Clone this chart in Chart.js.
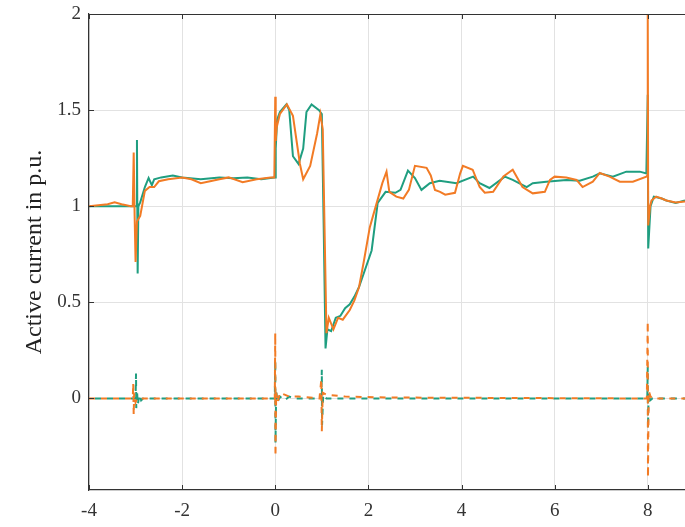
<!DOCTYPE html>
<html>
<head>
<meta charset="utf-8">
<script src="https://cdn.jsdelivr.net/npm/chart.js@4"></script>
<style>
  html, body { margin: 0; padding: 0; background: #fff; }
  #wrap { width: 685px; height: 527px; }
</style>
</head>
<body>
<div id="wrap"><canvas id="c" width="685" height="527"></canvas></div>
<script>
// ---- Data ----
const xTicks = [-4, -2, 0, 2, 4, 6, 8];
const yTicks = [0, 0.5, 1, 1.5, 2];

const orangeUpperX = [-4, -3.6, -3.45, -3.3, -3.1, -3.06, -3.04, -3.02, -3.0, -2.97, -2.9, -2.8, -2.7, -2.6, -2.5, -2.3, -2.0, -1.8, -1.6, -1.4, -1.2, -1.0, -0.7, -0.4, -0.1, -0.02, 0.0, 0.01, 0.03, 0.1, 0.25, 0.38, 0.53, 0.6, 0.75, 0.9, 0.97, 1.02, 1.1, 1.15, 1.25, 1.35, 1.45, 1.6, 1.7, 1.8, 1.9, 2.03, 2.1, 2.3, 2.39, 2.45, 2.6, 2.75, 2.87, 3.0, 3.25, 3.34, 3.43, 3.54, 3.65, 3.86, 3.97, 4.03, 4.24, 4.39, 4.5, 4.68, 4.9, 5.1, 5.31, 5.53, 5.79, 5.9, 6.0, 6.25, 6.47, 6.6, 6.82, 6.97, 7.18, 7.4, 7.68, 7.97, 7.99, 8.0, 8.01, 8.05, 8.08, 8.18, 8.3, 8.4, 8.6, 8.8];
const orangeUpperY = [1.0, 1.01, 1.02, 1.01, 1.0, 1.0, 1.28, 0.95, 0.71, 0.92, 0.95, 1.08, 1.10, 1.10, 1.13, 1.14, 1.15, 1.14, 1.12, 1.13, 1.14, 1.15, 1.125, 1.14, 1.15, 1.15, 1.57, 1.34, 1.41, 1.48, 1.53, 1.47, 1.22, 1.14, 1.21, 1.38, 1.48, 1.40, 0.34, 0.42, 0.36, 0.42, 0.41, 0.46, 0.51, 0.58, 0.71, 0.89, 0.95, 1.12, 1.18, 1.075, 1.05, 1.04, 1.085, 1.21, 1.2, 1.16, 1.085, 1.075, 1.06, 1.07, 1.17, 1.21, 1.19, 1.10, 1.07, 1.075, 1.155, 1.19, 1.10, 1.067, 1.075, 1.137, 1.154, 1.15, 1.137, 1.10, 1.128, 1.173, 1.154, 1.128, 1.128, 1.154, 1.16, 2.0, 0.9, 1.0, 1.03, 1.05, 1.04, 1.03, 1.02, 1.025];

const tealUpperX = [-4, -3.5, -3.1, -2.98, -2.97, -2.955, -2.94, -2.9, -2.8, -2.72, -2.65, -2.6, -2.45, -2.2, -2.0, -1.6, -1.2, -0.9, -0.6, -0.3, -0.02, 0.0, 0.01, 0.04, 0.1, 0.24, 0.3, 0.38, 0.5, 0.6, 0.67, 0.78, 0.94, 1.0, 1.04, 1.08, 1.12, 1.2, 1.3, 1.4, 1.5, 1.6, 1.7, 1.8, 1.9, 2.07, 2.2, 2.37, 2.58, 2.69, 2.85, 3.0, 3.14, 3.32, 3.53, 3.89, 4.25, 4.39, 4.6, 4.93, 5.1, 5.4, 5.53, 5.82, 6.25, 6.54, 6.82, 6.97, 7.25, 7.54, 7.83, 7.97, 8.0, 8.01, 8.06, 8.13, 8.3, 8.4, 8.6, 8.8];
const tealUpperY = [1.0, 1.0, 1.0, 1.0, 1.345, 0.65, 1.0, 1.02, 1.10, 1.147, 1.11, 1.14, 1.15, 1.16, 1.15, 1.14, 1.15, 1.145, 1.15, 1.14, 1.15, 1.15, 1.30, 1.45, 1.49, 1.53, 1.50, 1.26, 1.22, 1.30, 1.49, 1.53, 1.50, 1.48, 0.9, 0.26, 0.36, 0.35, 0.42, 0.43, 0.47, 0.49, 0.53, 0.58, 0.65, 0.77, 1.017, 1.075, 1.07, 1.085, 1.185, 1.147, 1.085, 1.12, 1.133, 1.12, 1.154, 1.12, 1.095, 1.154, 1.137, 1.10, 1.12, 1.128, 1.137, 1.133, 1.154, 1.171, 1.154, 1.18, 1.18, 1.171, 1.58, 0.78, 1.0, 1.05, 1.04, 1.03, 1.017, 1.03];

const orangeLowerX = [-4, -3.06, -3.05, -3.04, -3.03, -3.0, -2.97, -0.01, 0.0, 0.005, 0.02, 0.05, 0.1, 0.2, 0.3, 0.5, 0.95, 0.99, 1.0, 1.02, 1.1, 1.5, 2.5, 7.98, 8.0, 8.005, 8.02, 8.06, 8.1, 8.8];
const orangeLowerY = [0, 0, 0.08, -0.086, 0.03, -0.02, 0, 0, 0.34, -0.30, 0.03, -0.02, 0.03, 0.02, 0.01, 0.01, 0, 0.1, -0.17, 0.03, 0.02, 0.01, 0.005, 0, 0.40, -0.41, 0.04, 0.01, 0, 0];

const tealLowerX = [-4, -3.0, -2.99, -2.985, -2.97, -2.95, -2.92, -2.88, -2.84, -0.01, 0.0, 0.005, 0.02, 0.05, 0.1, 0.2, 0.3, 0.4, 0.99, 1.0, 1.005, 1.03, 1.1, 7.99, 8.0, 8.005, 8.02, 8.05, 8.1, 8.8];
const tealLowerY = [0, 0, 0.13, -0.05, 0.04, -0.03, 0.02, -0.01, 0, 0, 0.2, -0.23, 0.04, -0.02, 0.01, -0.01, 0.01, 0, 0, 0.15, -0.14, 0.02, 0, 0, 0.165, -0.155, 0.03, -0.01, 0, 0];

const ORANGE = '#f27b25';
const TEAL = '#1f9e80';

function pts(xs, ys) { return xs.map((x, i) => ({ x: x, y: ys[i] })); }

const topBorder = {
  id: 'topBorder',
  afterDraw(chart) {
    const { ctx, chartArea: a, scales } = chart;
    ctx.save();
    ctx.strokeStyle = '#333';
    ctx.lineWidth = 1.2;
    ctx.beginPath();
    ctx.moveTo(a.left, a.top + 0.5);
    ctx.lineTo(a.right, a.top + 0.5);
    ctx.stroke();
    ctx.lineWidth = 1;
    ctx.beginPath();
    xTicks.forEach(v => {
      const px = Math.round(scales.x.getPixelForValue(v)) + 0.5;
      ctx.moveTo(px, a.bottom); ctx.lineTo(px, a.bottom - 5);
      ctx.moveTo(px, a.top); ctx.lineTo(px, a.top + 5);
    });
    yTicks.forEach(v => {
      const py = Math.round(scales.y.getPixelForValue(v)) + 0.5;
      ctx.moveTo(a.left, py); ctx.lineTo(a.left + 5, py);
    });
    ctx.stroke();
    ctx.restore();
  }
};

const tickFont = { family: "'Liberation Serif', 'DejaVu Serif', serif", size: 19 };

new Chart(document.getElementById('c'), {
  type: 'scatter',
  data: {
    datasets: [
      { data: pts(orangeLowerX, orangeLowerY), borderColor: ORANGE, borderWidth: 2, borderDash: [6, 6], borderDashOffset: 0 },
      { data: pts(tealLowerX, tealLowerY), borderColor: TEAL, borderWidth: 2, borderDash: [6, 6], borderDashOffset: 6 },
      { data: pts(orangeUpperX, orangeUpperY), borderColor: ORANGE, borderWidth: 2 },
      { data: pts(tealUpperX, tealUpperY), borderColor: TEAL, borderWidth: 2 }
    ].map(d => Object.assign(d, { showLine: true, pointRadius: 0, tension: 0, fill: false }))
  },
  options: {
    responsive: false,
    animation: false,
    layout: { padding: { top: 14, right: 0, left: 0, bottom: 0 } },
    plugins: { legend: { display: false }, tooltip: { enabled: false } },
    scales: {
      x: {
        type: 'linear', min: -4, max: 8.8,
        afterBuildTicks: s => { s.ticks = xTicks.map(v => ({ value: v })); },
        afterFit: s => { s.height = 37; s.paddingLeft = 0; s.paddingRight = 0; },
        grid: { color: '#e2e2e2', lineWidth: 1, drawTicks: false },
        border: { color: '#333', width: 1.2 },
        ticks: { font: tickFont, color: '#333', padding: 10, maxRotation: 0,
                 callback: v => String(v) }
      },
      y: {
        type: 'linear', min: -0.476, max: 2,
        afterBuildTicks: s => { s.ticks = yTicks.map(v => ({ value: v })); },
        afterFit: s => { s.width = 89; s.paddingTop = 0; s.paddingBottom = 0; },
        grid: { color: '#e2e2e2', lineWidth: 1, drawTicks: false },
        border: { color: '#333', width: 1.2 },
        ticks: { font: tickFont, color: '#333', padding: 8, callback: v => String(v) },
        title: { display: true, text: 'Active current in p.u.', color: '#222',
                 font: { family: "'Liberation Serif', 'DejaVu Serif', serif", size: 24 },
                 padding: { top: 20, bottom: 0 } }
      }
    }
  },
  plugins: [topBorder]
});
</script>
</body>
</html>
